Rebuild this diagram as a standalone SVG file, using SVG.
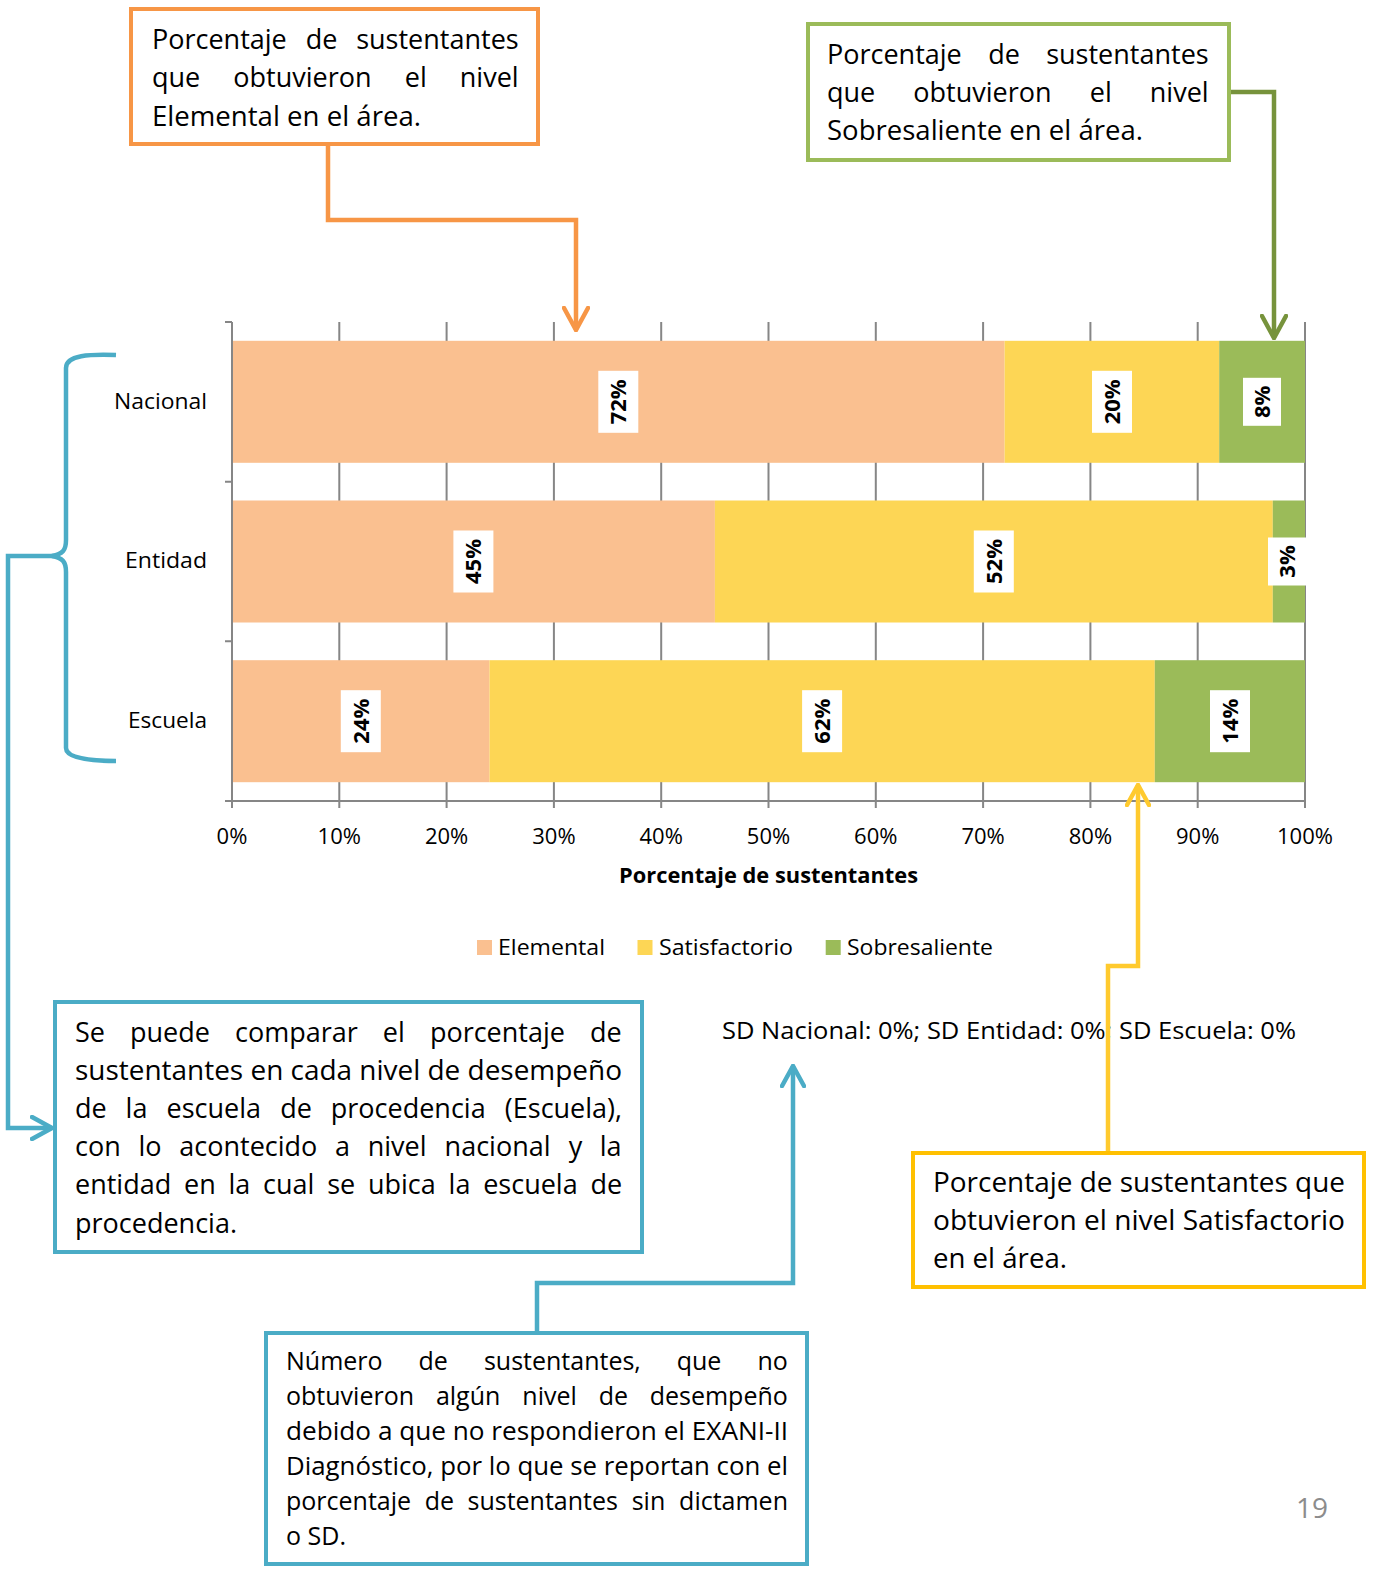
<svg xmlns="http://www.w3.org/2000/svg" width="1376" height="1576" viewBox="0 0 1376 1576">
<style>
text{font-family:'Open Sans','Noto Sans','Liberation Sans',sans-serif;fill:#000}
.t27{font-size:27px}
.t25{font-size:25px}
.lab{font-size:22px}
.dl{font-size:22px;font-weight:bold;text-anchor:middle}
.grid{stroke:#868686;stroke-width:2;fill:none}
.box{fill:#fff;stroke-width:4}
.conn{fill:none;stroke-width:4.5;stroke-linejoin:miter}
.lbox{fill:#fff}
</style>
<defs>
<marker id="aO" viewBox="0 0 26 28" refX="24" refY="14" markerWidth="26" markerHeight="28" markerUnits="userSpaceOnUse" orient="auto"><path d="M2,2 L24,14 L2,26" fill="none" stroke="#F79646" stroke-width="4.5" stroke-linecap="round"/></marker>
<marker id="aG" viewBox="0 0 26 28" refX="24" refY="14" markerWidth="26" markerHeight="28" markerUnits="userSpaceOnUse" orient="auto"><path d="M2,2 L24,14 L2,26" fill="none" stroke="#77933C" stroke-width="4.5" stroke-linecap="round"/></marker>
<marker id="aY" viewBox="0 0 24 26" refX="22" refY="13" markerWidth="24" markerHeight="26" markerUnits="userSpaceOnUse" orient="auto"><path d="M2,2 L22,13 L2,24" fill="none" stroke="#FFCA2E" stroke-width="4.5" stroke-linecap="round"/></marker>
<marker id="aB" viewBox="0 0 24 26" refX="22" refY="13" markerWidth="24" markerHeight="26" markerUnits="userSpaceOnUse" orient="auto"><path d="M2,2 L22,13 L2,24" fill="none" stroke="#4BACC6" stroke-width="4.5" stroke-linecap="round"/></marker>
</defs>
<rect width="1376" height="1576" fill="#fff"/>

<g id="chart">
  <g id="gridlines" class="grid">
    <path d="M339.3,322V808M446.6,322V808M553.9,322V808M661.2,322V808M768.5,322V808M875.8,322V808M983.1,322V808M1090.4,322V808M1197.7,322V808M1305,322V808"/>
  </g>
  <g id="bars">
    <rect x="232" y="340.8" width="772.6" height="122" fill="#FAC090"/>
    <rect x="1004.6" y="340.8" width="214.6" height="122" fill="#FDD655"/>
    <rect x="1219.2" y="340.8" width="85.8" height="122" fill="#9BBB59"/>
    <rect x="232" y="500.5" width="482.9" height="122" fill="#FAC090"/>
    <rect x="714.9" y="500.5" width="557.9" height="122" fill="#FDD655"/>
    <rect x="1272.8" y="500.5" width="32.2" height="122" fill="#9BBB59"/>
    <rect x="232" y="660.2" width="257.5" height="122" fill="#FAC090"/>
    <rect x="489.5" y="660.2" width="665.3" height="122" fill="#FDD655"/>
    <rect x="1154.8" y="660.2" width="150.2" height="122" fill="#9BBB59"/>
  </g>
  <g id="axes" class="grid">
    <path d="M232,322V801M225,322H232M225,481.7H232M225,641.3H232M225,801H1305M232,801V808"/>
  </g>
  <g id="datalabels">
    <rect class="lbox" x="598.3" y="370.8" width="40" height="62"/>
    <text class="dl" transform="translate(618.3,401.8) rotate(-90)" y="8">72%</text>
    <rect class="lbox" x="1092" y="370.8" width="40" height="62"/>
    <text class="dl" transform="translate(1112,401.8) rotate(-90)" y="8">20%</text>
    <rect class="lbox" x="1243" y="377.8" width="38" height="48"/>
    <text class="dl" transform="translate(1262,401.8) rotate(-90)" y="8">8%</text>
    <rect class="lbox" x="453.4" y="530.5" width="40" height="62"/>
    <text class="dl" transform="translate(473.4,561.5) rotate(-90)" y="8">45%</text>
    <rect class="lbox" x="973.8" y="530.5" width="40" height="62"/>
    <text class="dl" transform="translate(993.8,561.5) rotate(-90)" y="8">52%</text>
    <rect class="lbox" x="1268" y="537.5" width="38" height="48"/>
    <text class="dl" transform="translate(1287,561.5) rotate(-90)" y="8">3%</text>
    <rect class="lbox" x="340.8" y="690.2" width="40" height="62"/>
    <text class="dl" transform="translate(360.8,721.2) rotate(-90)" y="8">24%</text>
    <rect class="lbox" x="802.1" y="690.2" width="40" height="62"/>
    <text class="dl" transform="translate(822.1,721.2) rotate(-90)" y="8">62%</text>
    <rect class="lbox" x="1210" y="690.2" width="40" height="62"/>
    <text class="dl" transform="translate(1230,721.2) rotate(-90)" y="8">14%</text>
  </g>
  <g id="catlabels" class="lab">
    <text x="207" y="409" text-anchor="end" textLength="93" lengthAdjust="spacingAndGlyphs">Nacional</text>
    <text x="207" y="568" text-anchor="end" textLength="82" lengthAdjust="spacingAndGlyphs">Entidad</text>
    <text x="207" y="728" text-anchor="end" textLength="79" lengthAdjust="spacingAndGlyphs">Escuela</text>
  </g>
  <g id="ticklabels" class="lab" text-anchor="middle">
    <text x="232" y="844">0%</text>
    <text x="339.3" y="844">10%</text>
    <text x="446.6" y="844">20%</text>
    <text x="553.9" y="844">30%</text>
    <text x="661.2" y="844">40%</text>
    <text x="768.5" y="844">50%</text>
    <text x="875.8" y="844">60%</text>
    <text x="983.1" y="844">70%</text>
    <text x="1090.4" y="844">80%</text>
    <text x="1197.7" y="844">90%</text>
    <text x="1305" y="844">100%</text>
  </g>
  <text x="619" y="883" font-size="22" font-weight="bold" textLength="299" lengthAdjust="spacingAndGlyphs">Porcentaje de sustentantes</text>
  <g id="legend" class="lab">
    <rect x="477" y="940" width="15" height="15" fill="#FAC090"/>
    <text x="498" y="955" textLength="107" lengthAdjust="spacingAndGlyphs">Elemental</text>
    <rect x="637.5" y="940" width="15" height="15" fill="#FDD655"/>
    <text x="659" y="955" textLength="134" lengthAdjust="spacingAndGlyphs">Satisfactorio</text>
    <rect x="825.7" y="940" width="15" height="15" fill="#9BBB59"/>
    <text x="847" y="955" textLength="146" lengthAdjust="spacingAndGlyphs">Sobresaliente</text>
  </g>
  <text id="sd" x="722" y="1039" font-size="24" textLength="574" lengthAdjust="spacingAndGlyphs">SD Nacional: 0%; SD Entidad: 0%; SD Escuela: 0%</text>
</g>

<g id="connectors">
  <path class="conn" stroke="#F79646" d="M328,145V220H576V330" marker-end="url(#aO)"/>
  <path class="conn" stroke="#77933C" d="M1230,92H1274V338" marker-end="url(#aG)"/>
  <path class="conn" stroke="#FFCA2E" d="M1108,1152V966H1138V785" marker-end="url(#aY)"/>
  <path class="conn" stroke="#4BACC6" d="M537,1333V1283H793V1066" marker-end="url(#aB)"/>
  <path class="conn" stroke="#4BACC6" d="M116,355C90,354 66,355 66,368V540C66,550 63,554 52,556C63,558 66,562 66,572V748C66,758 90,761 116,761"/>
  <path class="conn" stroke="#4BACC6" d="M60,556H8V1128H52" marker-end="url(#aB)"/>
</g>

<g id="box-elemental">
  <rect class="box" x="131" y="9" width="407" height="135" stroke="#F79646"/>
  <text class="t27"><tspan x="152" y="49">Porcentaje</tspan><tspan x="305.7" y="49">de</tspan><tspan x="356.2" y="49">sustentantes</tspan></text>
  <text class="t27"><tspan x="152" y="87">que</tspan><tspan x="233.3" y="87">obtuvieron</tspan><tspan x="404.8" y="87">el</tspan><tspan x="459.8" y="87">nivel</tspan></text>
  <text class="t27" x="152" y="126" textLength="269" lengthAdjust="spacingAndGlyphs">Elemental en el área.</text>
</g>

<g id="box-sobresaliente">
  <rect class="box" x="808" y="24" width="421" height="136" stroke="#9BBB59"/>
  <text class="t27"><tspan x="827" y="64">Porcentaje</tspan><tspan x="988.2" y="64">de</tspan><tspan x="1046.2" y="64">sustentantes</tspan></text>
  <text class="t27"><tspan x="827" y="102">que</tspan><tspan x="913.3" y="102">obtuvieron</tspan><tspan x="1089.8" y="102">el</tspan><tspan x="1149.8" y="102">nivel</tspan></text>
  <text class="t27" x="827" y="140" textLength="316" lengthAdjust="spacingAndGlyphs">Sobresaliente en el área.</text>
</g>

<g id="box-comparar">
  <rect class="box" x="55" y="1002" width="587" height="250" stroke="#4BACC6"/>
  <text class="t27"><tspan x="75" y="1042">Se</tspan><tspan x="130" y="1042">puede</tspan><tspan x="235.1" y="1042">comparar</tspan><tspan x="382.8" y="1042">el</tspan><tspan x="429.9" y="1042">porcentaje</tspan><tspan x="590.1" y="1042">de</tspan></text>
  <text class="t27" x="75" y="1080" textLength="547" lengthAdjust="spacingAndGlyphs">sustentantes en cada nivel de desempeño</text>
  <text class="t27"><tspan x="75" y="1118">de</tspan><tspan x="125.6" y="1118">la</tspan><tspan x="166.5" y="1118">escuela</tspan><tspan x="280.2" y="1118">de</tspan><tspan x="330.8" y="1118">procedencia</tspan><tspan x="504.8" y="1118">(Escuela),</tspan></text>
  <text class="t27"><tspan x="75" y="1156">con</tspan><tspan x="138.4" y="1156">lo</tspan><tspan x="179.3" y="1156">acontecido</tspan><tspan x="335.1" y="1156">a</tspan><tspan x="367.7" y="1156">nivel</tspan><tspan x="444.6" y="1156">nacional</tspan><tspan x="568.7" y="1156">y</tspan><tspan x="599.8" y="1156">la</tspan></text>
  <text class="t27"><tspan x="75" y="1194">entidad</tspan><tspan x="184" y="1194">en</tspan><tspan x="228.4" y="1194">la</tspan><tspan x="263" y="1194">cual</tspan><tspan x="327.2" y="1194">se</tspan><tspan x="367.9" y="1194">ubica</tspan><tspan x="448.6" y="1194">la</tspan><tspan x="483.2" y="1194">escuela</tspan><tspan x="590.6" y="1194">de</tspan></text>
  <text class="t27" x="75" y="1233">procedencia.</text>
</g>

<g id="box-sd">
  <rect class="box" x="266" y="1333" width="541" height="231" stroke="#4BACC6"/>
  <text class="t25"><tspan x="286" y="1370">Número</tspan><tspan x="418.5" y="1370">de</tspan><tspan x="483.9" y="1370">sustentantes,</tspan><tspan x="676.7" y="1370">que</tspan><tspan x="757.5" y="1370">no</tspan></text>
  <text class="t25"><tspan x="286" y="1405">obtuvieron</tspan><tspan x="435.9" y="1405">algún</tspan><tspan x="522.3" y="1405">nivel</tspan><tspan x="598.8" y="1405">de</tspan><tspan x="649.7" y="1405">desempeño</tspan></text>
  <text class="t25" x="286" y="1440" textLength="502" lengthAdjust="spacingAndGlyphs">debido a que no respondieron el EXANI-II</text>
  <text class="t25" x="286" y="1475" textLength="502" lengthAdjust="spacingAndGlyphs">Diagnóstico, por lo que se reportan con el</text>
  <text class="t25"><tspan x="286" y="1510">porcentaje</tspan><tspan x="424.7" y="1510">de</tspan><tspan x="467.5" y="1510">sustentantes</tspan><tspan x="631.7" y="1510">sin</tspan><tspan x="679.1" y="1510">dictamen</tspan></text>
  <text class="t25" x="286" y="1545">o SD.</text>
</g>

<g id="box-satisfactorio">
  <rect class="box" x="913" y="1153" width="451" height="134" stroke="#FFC000"/>
  <text class="t27" x="933" y="1192" textLength="412" lengthAdjust="spacingAndGlyphs">Porcentaje de sustentantes que</text>
  <text class="t27" x="933" y="1230" textLength="412" lengthAdjust="spacingAndGlyphs">obtuvieron el nivel Satisfactorio</text>
  <text class="t27" x="933" y="1268" textLength="134" lengthAdjust="spacingAndGlyphs">en el área.</text>
</g>

<text id="page" x="1296" y="1518" font-size="28" style="fill:#8C8C8C">19</text>
</svg>
